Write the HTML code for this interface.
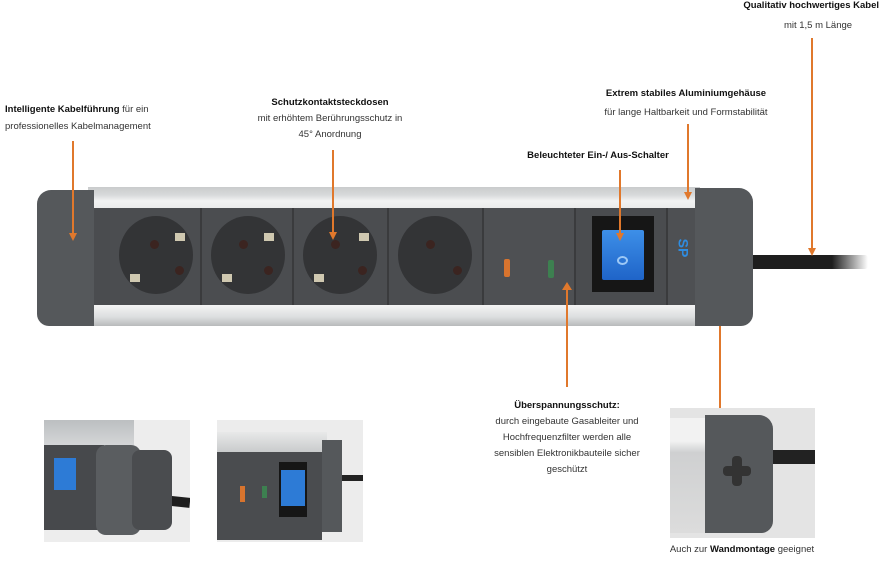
<!DOCTYPE html>
<html><head><meta charset="utf-8"><style>
*{margin:0;padding:0;box-sizing:border-box}
body{width:881px;height:563px;background:#fff;position:relative;overflow:hidden;font-family:"Liberation Sans",sans-serif;font-size:9.5px;color:#333}
.a{position:absolute}
.t{position:absolute;white-space:nowrap;line-height:16px}
.c{transform:translateX(-50%);text-align:center}
b{color:#111}
.ln{position:absolute;width:2px;background:#e0782c}
.ar{position:absolute;width:0;height:0;border-left:4px solid transparent;border-right:4px solid transparent;border-top:8px solid #e0782c}
.sock{position:absolute;top:208px;height:97px;background:#4b4d50;border-right:2px solid #3a3b3d}
.hole{position:absolute;left:9px;top:8px;width:74px;height:78px;border-radius:50%;background:#333436}
.pin{position:absolute;width:9px;height:9px;border-radius:50%;background:#3b2420}
.cl{position:absolute;width:10px;height:8px;background:#cfc8b0}
</style></head><body>
<!-- texts -->
<div class="t" style="right:2px;top:-2px"><b>Qualitativ hochwertiges Kabel</b></div>
<div class="t c" style="left:818px;top:18px">mit 1,5 m Länge</div>
<div class="t" style="left:5px;top:102px"><b>Intelligente Kabelführung</b> für ein</div>
<div class="t" style="left:5px;top:119px">professionelles Kabelmanagement</div>
<div class="t c" style="left:330px;top:95px"><b>Schutzkontaktsteckdosen</b></div>
<div class="t c" style="left:330px;top:111px">mit erhöhtem Berührungsschutz in</div>
<div class="t c" style="left:330px;top:127px">45° Anordnung</div>
<div class="t c" style="left:686px;top:86px"><b>Extrem stabiles Aluminiumgehäuse</b></div>
<div class="t c" style="left:686px;top:105px">für lange Haltbarkeit und Formstabilität</div>
<div class="t c" style="left:598px;top:148px"><b>Beleuchteter Ein-/ Aus-Schalter</b></div>
<div class="t c" style="left:567px;top:398px"><b>Überspannungsschutz:</b></div>
<div class="t c" style="left:567px;top:414px">durch eingebaute Gasableiter und</div>
<div class="t c" style="left:567px;top:430px">Hochfrequenzfilter werden alle</div>
<div class="t c" style="left:567px;top:446px">sensiblen Elektronikbauteile sicher</div>
<div class="t c" style="left:567px;top:462px">geschützt</div>
<div class="t c" style="left:742px;top:542px">Auch zur <b>Wandmontage</b> geeignet</div>

<!-- cable -->
<div class="a" style="left:748px;top:255px;width:120px;height:14px;background:linear-gradient(90deg,#1e1e1e 70%,#fff);border-radius:3px"></div>
<!-- aluminium -->
<div class="a" style="left:88px;top:187px;width:612px;height:139px;background:linear-gradient(#c9cbcc 0,#d8dadb 8px,#f2f3f3 14px,#e9eaea 22px,#444 22px,#444 118px,#f4f4f4 118px,#dcdedf 130px,#b8babb 139px)"></div>
<!-- left cap -->
<div class="a" style="left:37px;top:190px;width:57px;height:136px;background:#55585b;border-radius:14px 0 0 12px"></div>
<div class="a" style="left:94px;top:208px;width:16px;height:97px;background:#4a4c4f"></div>
<!-- sockets -->
<div class="sock" style="left:110px;width:92px"><div class="hole"></div><div class="pin" style="left:40px;top:32px"></div><div class="pin" style="left:65px;top:58px"></div><div class="cl" style="left:65px;top:25px"></div><div class="cl" style="left:20px;top:66px"></div></div>
<div class="sock" style="left:202px;width:92px"><div class="hole"></div><div class="pin" style="left:37px;top:32px"></div><div class="pin" style="left:62px;top:58px"></div><div class="cl" style="left:62px;top:25px"></div><div class="cl" style="left:20px;top:66px"></div></div>
<div class="sock" style="left:294px;width:95px"><div class="hole"></div><div class="pin" style="left:37px;top:32px"></div><div class="pin" style="left:64px;top:58px"></div><div class="cl" style="left:65px;top:25px"></div><div class="cl" style="left:20px;top:66px"></div></div>
<div class="sock" style="left:389px;width:95px"><div class="hole"></div><div class="pin" style="left:37px;top:32px"></div><div class="pin" style="left:64px;top:58px"></div></div>
<!-- surge panel -->
<div class="a" style="left:484px;top:208px;width:92px;height:97px;background:#4e5053;border-right:2px solid #3a3b3d"></div>
<div class="a" style="left:504px;top:259px;width:6px;height:18px;background:#d8742e;border-radius:2px"></div>
<div class="a" style="left:548px;top:260px;width:6px;height:18px;background:#3d8050;border-radius:2px"></div>
<!-- switch panel -->
<div class="a" style="left:576px;top:208px;width:92px;height:97px;background:#4a4c4f;border-right:2px solid #3a3b3d"></div>
<div class="a" style="left:592px;top:216px;width:62px;height:76px;background:#161616"></div>
<div class="a" style="left:602px;top:230px;width:42px;height:50px;background:linear-gradient(#3d8fe8,#1f64c8);border-radius:2px"></div>
<div class="a" style="left:617px;top:256px;width:11px;height:9px;border:2px solid #9cc8f6;border-radius:50%"></div>
<div class="a" style="left:668px;top:208px;width:28px;height:97px;background:#4e5053"></div>
<div class="t" style="left:674px;top:240px;color:#2f8ce0;font-weight:bold;font-size:14px;transform:rotate(90deg)">SP</div>
<!-- right cap -->
<div class="a" style="left:695px;top:188px;width:58px;height:138px;background:#55585b;border-radius:0 14px 12px 0"></div>

<!-- lines -->
<div class="ln" style="left:811px;top:38px;height:212px"></div><div class="ar" style="left:808px;top:248px"></div>
<div class="ln" style="left:72px;top:141px;height:94px"></div><div class="ar" style="left:69px;top:233px"></div>
<div class="ln" style="left:332px;top:150px;height:84px"></div><div class="ar" style="left:329px;top:232px"></div>
<div class="ln" style="left:687px;top:124px;height:70px"></div><div class="ar" style="left:684px;top:192px"></div>
<div class="ln" style="left:619px;top:170px;height:65px"></div><div class="ar" style="left:616px;top:233px"></div>
<div class="ln" style="left:566px;top:287px;height:100px"></div><div class="a" style="left:562px;top:282px;border-left:5px solid transparent;border-right:5px solid transparent;border-bottom:8px solid #e0782c"></div>
<div class="ln" style="left:719px;top:326px;height:86px"></div>

<!-- photo 1 -->
<div class="a" style="left:44px;top:420px;width:146px;height:122px;background:#ededed;overflow:hidden">
 <div class="a" style="left:0;top:0;width:90px;height:40px;background:linear-gradient(#bcbfc1,#e2e3e4)"></div>
 <div class="a" style="left:0;top:25px;width:60px;height:85px;background:#47494c"></div>
 <div class="a" style="left:10px;top:38px;width:22px;height:32px;background:#2d7bd6"></div>
 <div class="a" style="left:90px;top:75px;width:56px;height:10px;background:#1e1e1e;transform:rotate(6deg)"></div>
 <div class="a" style="left:52px;top:25px;width:45px;height:90px;background:#5a5d60;border-radius:10px"></div>
 <div class="a" style="left:88px;top:30px;width:40px;height:80px;background:#4a4c4f;border-radius:8px"></div>
</div>
<!-- photo 2 -->
<div class="a" style="left:217px;top:420px;width:146px;height:122px;background:#ececec;overflow:hidden">
 <div class="a" style="left:0;top:12px;width:110px;height:20px;background:linear-gradient(#e8e9e9,#c9cbcc)"></div>
 <div class="a" style="left:0;top:32px;width:105px;height:88px;background:#4a4c4f"></div>
 <div class="a" style="left:23px;top:66px;width:5px;height:16px;background:#d8742e"></div>
 <div class="a" style="left:45px;top:66px;width:5px;height:12px;background:#3d8050"></div>
 <div class="a" style="left:62px;top:42px;width:28px;height:55px;background:#161616"></div>
 <div class="a" style="left:64px;top:50px;width:24px;height:36px;background:#2d7bd6"></div>
 <div class="a" style="left:105px;top:20px;width:20px;height:92px;background:#55585b"></div>
 <div class="a" style="left:125px;top:55px;width:25px;height:6px;background:#222"></div>
</div>
<!-- photo 3 -->
<div class="a" style="left:670px;top:408px;width:145px;height:130px;background:#e4e4e4;overflow:hidden">
 <div class="a" style="left:0;top:10px;width:40px;height:115px;background:linear-gradient(#f2f2f2 20%,#cfd0d1 30%,#dcdcdc)"></div>
 <div class="a" style="left:95px;top:42px;width:50px;height:14px;background:#222"></div>
 <div class="a" style="left:35px;top:7px;width:68px;height:118px;background:#55585b;border-radius:0 14px 12px 0"></div>
 <div class="a" style="left:62px;top:48px;width:10px;height:30px;background:#333;border-radius:4px"></div>
 <div class="a" style="left:53px;top:58px;width:28px;height:10px;background:#333;border-radius:4px"></div>
</div>
</body></html>
